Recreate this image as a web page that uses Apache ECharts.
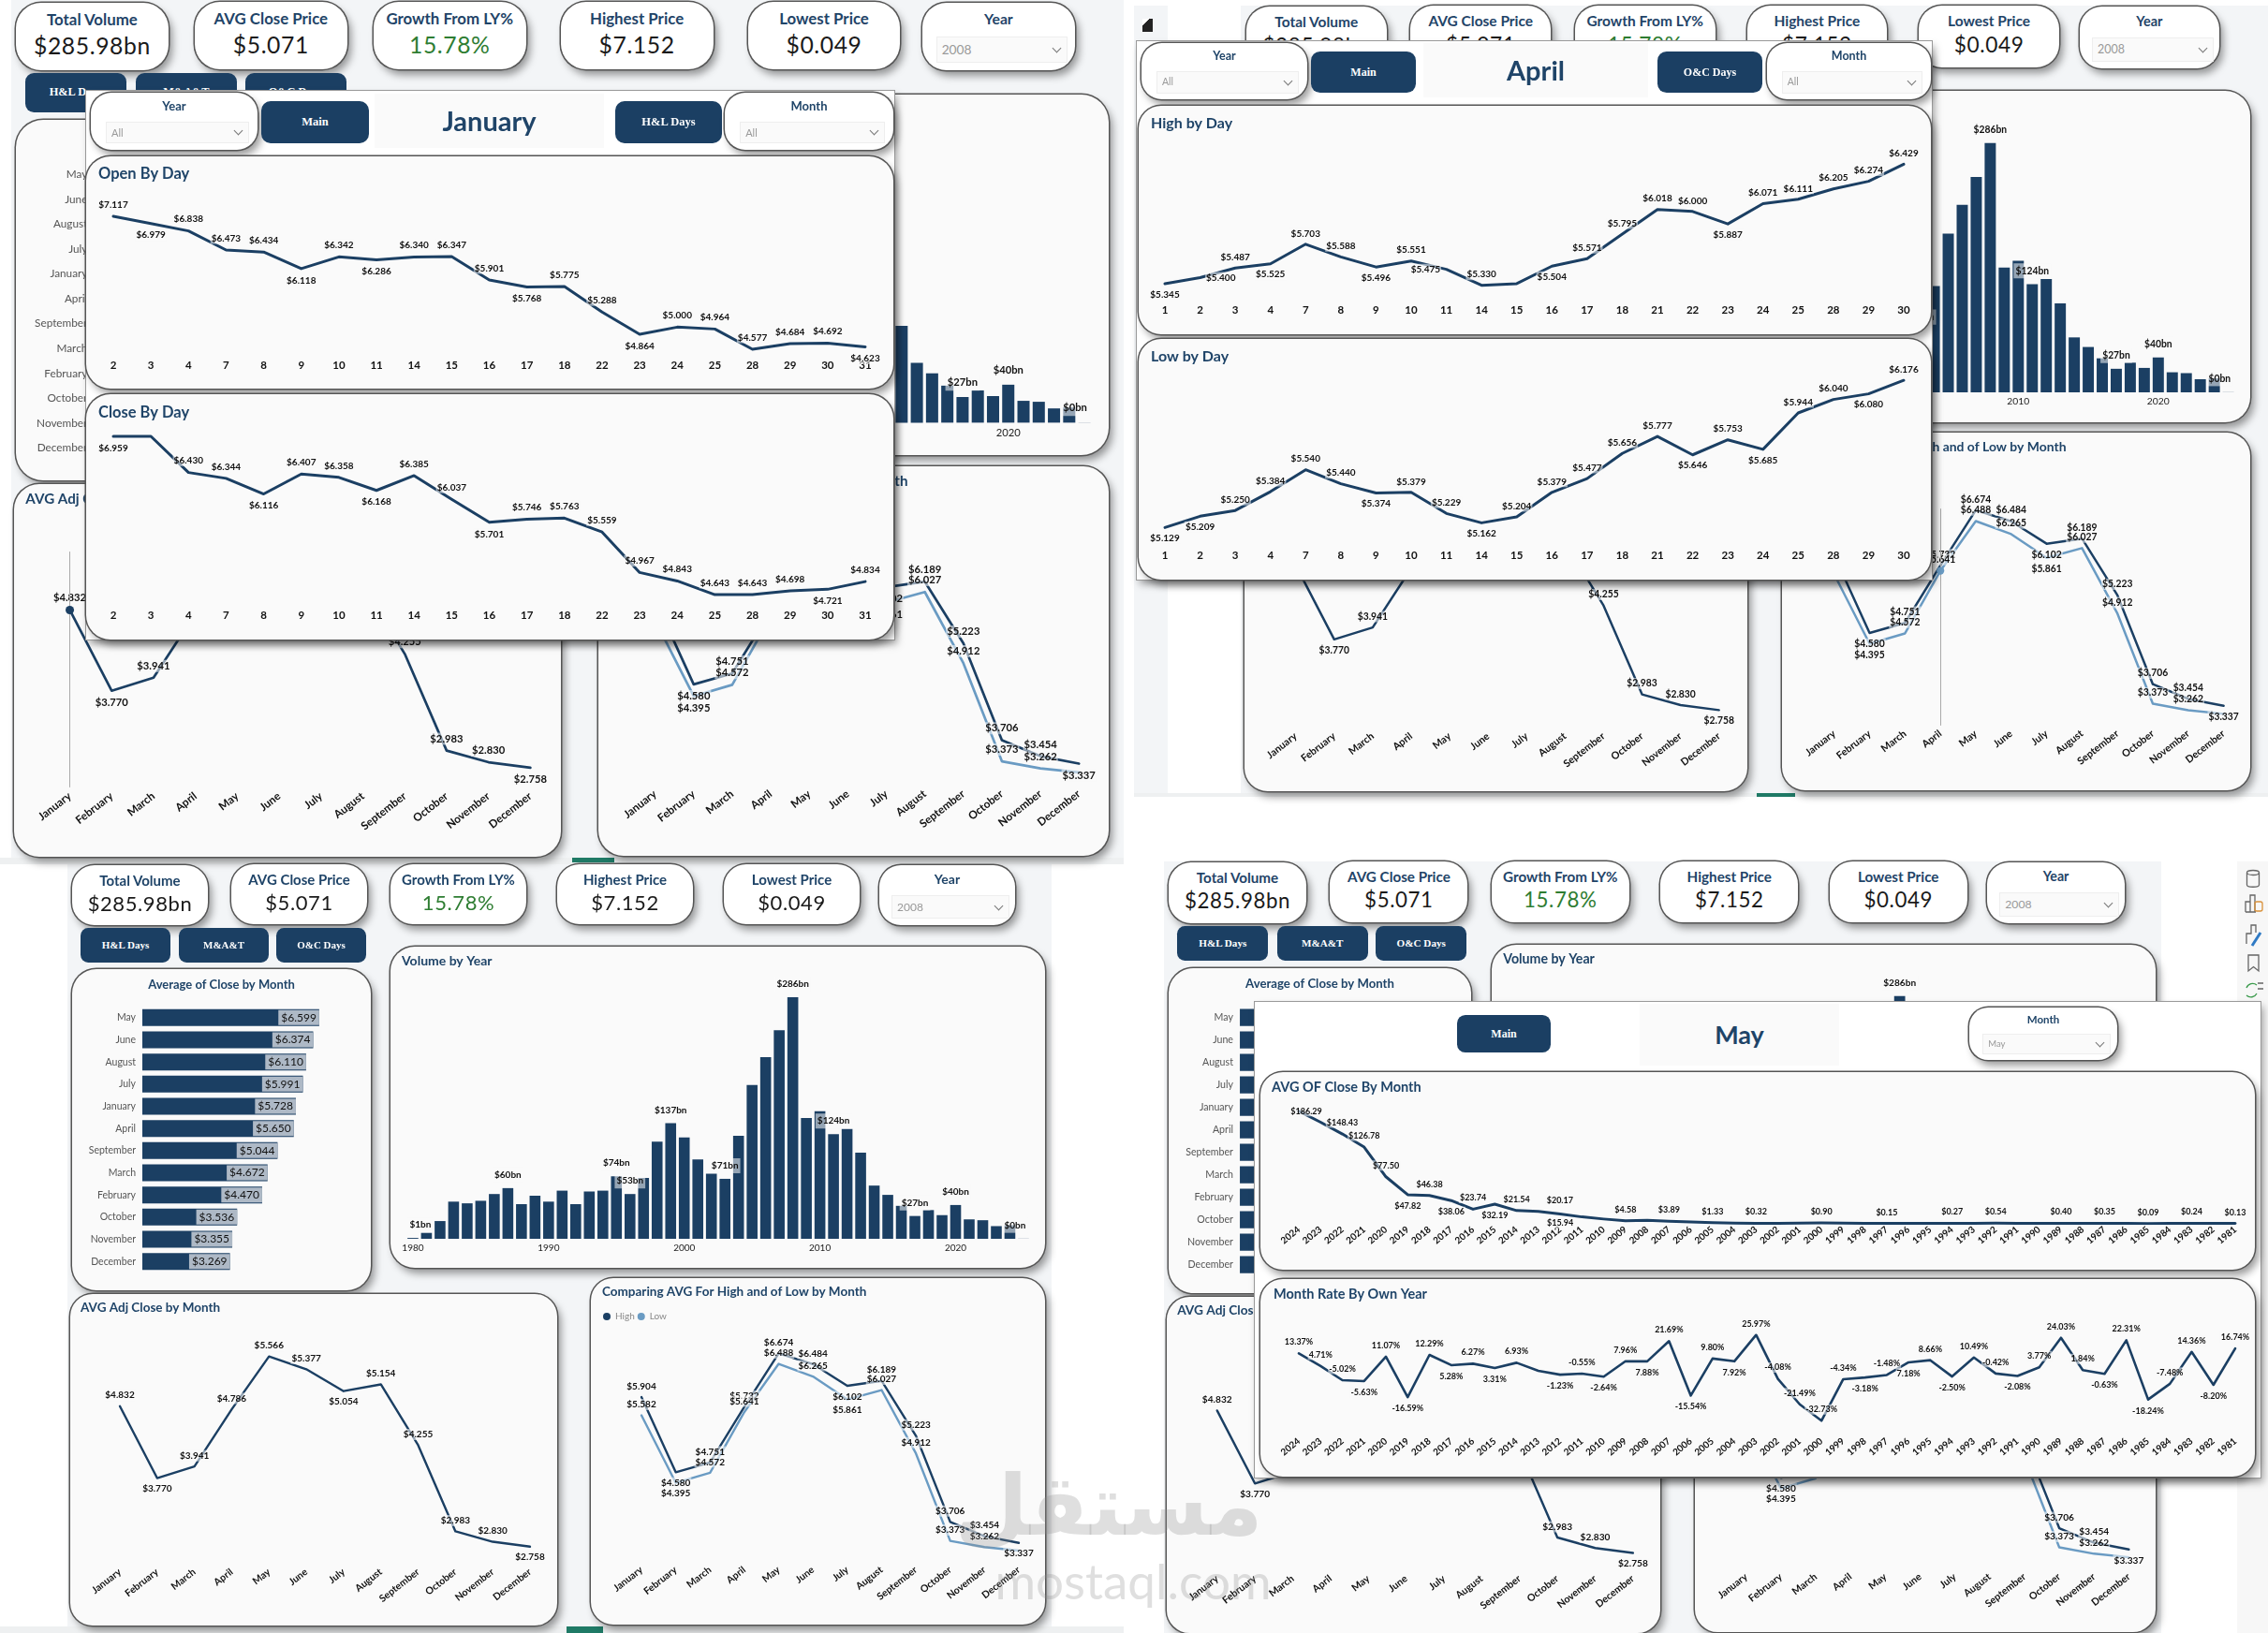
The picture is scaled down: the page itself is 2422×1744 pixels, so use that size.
<!DOCTYPE html>
<html>
<head>
<meta charset="utf-8">
<title>Stock dashboard</title>
<script src="https://cdn.jsdelivr.net/npm/echarts@6/dist/echarts.min.js"></script>
<style>
  html, body { margin:0; padding:0; background:#fff; }
  body { width:2422px; height:1744px; position:relative; overflow:hidden; font-family:Lato,Roboto,sans-serif; }
  .abs { position:absolute; box-sizing:border-box; }
  .card { background:#fafafa; box-shadow:0 0 0 1.5px #555, 4px 6px 8px rgba(0,0,0,.4); }
  .tile { background:#fff; box-shadow:0 0 0 1.5px #555, 4px 6px 8px rgba(0,0,0,.4); text-align:center; }
  .btn { background:#1b3f63; color:#fff; text-align:center; font-family:"Liberation Serif",serif; font-weight:bold; }
  .tileLabel { color:#1f4468; font-weight:bold; position:absolute; left:0; right:0; }
  .tileValue { color:#1a1a1a; position:absolute; left:0; right:0; letter-spacing:.6px; }
  .pick { position:absolute; background:#fafafa; border:1px solid #eee; color:#999; text-align:left; }
  .pick i { position:absolute; border-right:1px solid #777; border-bottom:1px solid #777; transform:rotate(45deg); }
</style>
</head>
<body>
<script>
// shared axes
var months = ['January','February','March','April','May','June','July','August','September','October','November','December'];
var barMonths = ['May','June','August','July','January','April','September','March','February','October','November','December'];
var barClose = [6.599,6.374,6.110,5.991,5.728,5.650,5.044,4.672,4.470,3.536,3.355,3.269];

var volumeYears = [1980,1981,1982,1983,1984,1985,1986,1987,1988,1989,1990,1991,1992,1993,1994,1995,1996,1997,1998,1999,2000,2001,2002,2003,2004,2005,2006,2007,2008,2009,2010,2011,2012,2013,2014,2015,2016,2017,2018,2019,2020,2021,2022,2023,2024,2025];
var volumeBn = [1,7,21,44,42,45,53,60,41,51,44,57,41,56,57,74,53,72,115,137,120,94,77,71,122,182,215,247,286,143,151,124,130,102,63,52,39,27,34,28,40,23,22,15,16,0.4];
var volumeLabelled = [1980,1987,1995,1996,1999,2003,2008,2011,2017,2020,2025];

// a = label above, b = below, l / r = beside the point, - = no label
var adjClose = [4.832,3.770,3.941,4.786,5.566,5.377,5.054,5.154,4.255,2.983,2.830,2.758];
var adjPlace = 'abaaaabaaaab';
var avgHigh = [5.904,4.580,4.751,5.732,6.674,6.484,6.102,6.189,5.223,3.706,3.454,3.337];
var avgLow = [5.582,4.395,4.572,5.641,6.488,6.265,5.861,6.027,4.912,3.373,3.262,3.200];
var highPlace = 'abaaaabaaaab';
var lowPlace = 'abaaaabaaaa-';

var janDays = ['2','3','4','7','8','9','10','11','14','15','16','17','18','22','23','24','25','28','29','30','31'];
var janOpen = [7.117,6.979,6.838,6.473,6.434,6.118,6.342,6.286,6.340,6.347,5.901,5.768,5.775,5.288,4.864,5.000,4.964,4.577,4.684,4.692,4.623];
var janOpenPlace = 'abaaababaaabaabaaaaab';
var janClose = [6.959,6.959,6.430,6.344,6.116,6.407,6.358,6.168,6.385,6.037,5.701,5.746,5.763,5.559,4.967,4.843,4.643,4.643,4.698,4.721,4.834];
var janClosePlace = 'b-aabaabaabaaaaaaaaba';

var aprDays = ['1','2','3','4','7','8','9','10','11','14','15','16','17','18','21','22','23','24','25','28','29','30'];
var aprHigh = [5.345,5.400,5.487,5.525,5.703,5.588,5.496,5.551,5.475,5.330,5.345,5.504,5.571,5.795,6.018,6.000,5.887,6.071,6.111,6.205,6.274,6.429];
var aprHighPlace = 'brabaabala-baaaabaaaaa';
var aprLow = [5.129,5.209,5.250,5.384,5.540,5.440,5.374,5.379,5.229,5.162,5.204,5.379,5.477,5.656,5.777,5.646,5.753,5.685,5.944,6.040,6.080,6.176];
var aprLowPlace = 'bbaaaabaabaaaaababaaba';

var ownYears = [2024,2023,2022,2021,2020,2019,2018,2017,2016,2015,2014,2013,2012,2011,2010,2009,2008,2007,2006,2005,2004,2003,2002,2001,2000,1999,1998,1997,1996,1995,1994,1993,1992,1991,1990,1989,1988,1987,1986,1985,1984,1983,1982,1981];
var mayClose = [186.29,168,148.43,126.78,77.50,47.82,46.38,38.06,23.74,32.19,21.54,20.17,15.94,11,7.5,4.58,5.5,3.89,2.5,1.33,0.8,0.32,0.5,0.7,0.90,0.6,0.3,0.15,0.2,0.25,0.27,0.4,0.54,0.5,0.45,0.40,0.38,0.35,0.2,0.09,0.15,0.24,0.2,0.13];
var mayClosePlace = 'a-aaababab'+'aab'+'--a-a-a-a--a--a--a-a--a-a-a-a-a';
var mayRate = [13.37,4.71,-5.02,-5.63,11.07,-16.59,12.29,5.28,6.27,3.31,6.93,1.40,-1.23,-0.55,-2.64,7.96,7.88,21.69,-15.54,9.80,7.92,25.97,-4.08,-21.49,-32.73,-4.34,-3.18,-1.48,7.18,8.66,-2.50,10.49,-0.42,-2.08,3.77,24.03,1.84,-0.63,22.31,-18.24,-7.48,14.36,-8.20,16.74];
var mayRatePlace = 'aaababab'+'aba-'+'babababab'+'aaaaa'+'bababa'+'ab'+'aaab'+'ab'+'aab'+'a';

var kpiNames = ['Total Volume','AVG Close Price','Growth From LY%','Highest Price','Lowest Price'];
var kpiValues = ['$285.98bn','$5.071','15.78%','$7.152','$0.049'];

var NAVY = '#1b3f63', SKY = '#6a9bc3', TITLE = '#1f4468', FONT = 'Lato,Roboto,sans-serif';
var HALO = 'rgba(250,250,250,0.55)';

function box(cls, x, y, w, h, r, parent) {
  var d = document.createElement('div');
  d.className = 'abs ' + cls;
  d.style.cssText = 'left:'+x+'px;top:'+y+'px;width:'+w+'px;height:'+h+'px;border-radius:'+(r||0)+'px;';
  (parent || document.body).appendChild(d);
  return d;
}

function tile(x, y, w, h, name, value, k, green) {
  var d = box('tile', x, y, w, h, 24*k);
  d.innerHTML = '<div class="tileLabel" style="top:'+(7*k)+'px;font-size:'+(15*k)+'px;line-height:'+(18*k)+'px">'+name+'</div>'+
    '<div class="tileValue" style="top:'+(27*k)+'px;font-size:'+(22*k)+'px;line-height:'+(28*k)+'px;color:'+(green?'#2e7d32':'#1a1a1a')+'">'+value+'</div>';
}

function slicer(x, y, w, h, name, value, fs) {
  var d = box('tile', x, y, w, h, h*0.36);
  var px = w*0.09, pw = w-2*px, pt = h*0.5, ph = h*0.36;
  d.innerHTML = '<div class="tileLabel" style="top:'+(h*0.1)+'px;font-size:'+fs+'px;line-height:'+(fs*1.3)+'px">'+name+'</div>'+
    '<div class="pick" style="left:'+px+'px;width:'+pw+'px;top:'+pt+'px;height:'+ph+'px;font-size:'+(fs-2)+'px;line-height:'+ph+'px;padding-left:5px">'+value+
    '<i style="right:7px;top:'+(ph/2-5)+'px;width:6px;height:6px"></i></div>';
}

function button(x, y, w, h, text, fs) {
  var d = box('btn', x, y, w, h, h*0.22);
  d.style.fontSize = fs+'px';
  d.style.lineHeight = h+'px';
  d.textContent = text;
}

function heading(x, y, w, h, text, fs) {
  var d = box('', x, y, w, h);
  d.style.cssText += 'background:#fafafa;color:'+TITLE+';font-weight:bold;text-align:center;font-size:'+fs+'px;line-height:'+h+'px;';
  d.textContent = text;
}

function chart(x, y, w, h, r, option) {
  var d = box('card', x, y, w, h, r);
  var c = echarts.init(d);
  option.animation = false;
  option.textStyle = { fontFamily: FONT };
  c.setOption(option);
  return c;
}

var POS = { a:'top', b:'bottom', l:'left', r:'right' };

// card + line chart, plot = [xFirst, xLast, yTop, yBottom] in page pixels
function lineCard(o) {
  var b = o.box, p = o.plot;
  var series = o.lines.map(function (l) {
    var s = {
      type:'line', name:l.name, symbol:'circle', symbolSize:1, showAllSymbol:true, z:3,
      lineStyle:{ color:l.color, width:o.width || 2.5, cap:'round', join:'round' },
      itemStyle:{ color:l.color },
      label:{ show:true, color:'#111', fontSize:o.fs, fontWeight:'bold', distance:o.dist,
              backgroundColor:HALO, padding:[1,1],
              formatter:function (q) { return l.fmt(l.vals[q.dataIndex]); } },
      data:l.vals.map(function (v, i) {
        var c = l.place[i];
        if (c === '-') return { value:v, label:{ show:false } };
        var lab = { position:POS[c] };
        if (l.shift && l.shift[i]) lab.offset = l.shift[i];
        return { value:v, label:lab };
      })
    };
    if (o.focus !== undefined && l.focusLine) {
      s.markLine = { silent:true, symbol:'none', label:{show:false}, lineStyle:{color:'#aaa',width:1,type:'solid'},
        data:[{ xAxis:o.cats[o.focus] }] };
      s.markPoint = { symbol:'circle', symbolSize:8*o.k, itemStyle:{color:l.color}, label:{show:false},
        data:[{ coord:[o.cats[o.focus], l.vals[o.focus]] }] };
    }
    return s;
  });
  var opt = {
    title:{ text:o.title, padding:0, left:o.titleX-b[0], top:o.titleY-b[1]-o.titleFs*0.6,
            textStyle:{ color:TITLE, fontSize:o.titleFs, fontWeight:'bold' } },
    grid:{ left:p[0]-b[0], top:p[2]-b[1], width:p[1]-p[0], height:p[3]-p[2] },
    xAxis:{ type:'category', data:o.cats, boundaryGap:false,
            axisLine:{show:false}, axisTick:{show:false},
            axisLabel:{ interval:0, color:'#111', fontSize:o.tickFs, rotate:o.rotate||0, margin:o.margin, fontWeight:'bold' } },
    yAxis:{ type:'value', show:false, min:o.yMin, max:o.yMax },
    series:series
  };
  if (o.legend) {
    opt.legend = { padding:0, left:o.legend[0]-b[0], top:o.legend[1]-b[1], icon:'circle', itemWidth:8*o.k, itemHeight:8*o.k, itemGap:3,
                   data:['High','Low'], textStyle:{ color:'#888', fontSize:10*o.k } };
  }
  chart(b[0], b[1], b[2]-b[0], b[3]-b[1], o.radius, opt);
}

function money3(v) { return '$'+v.toFixed(3); }
function money2(v) { return '$'+v.toFixed(2); }
function pct(v) { return v.toFixed(2)+'%'; }

// the main report page, all coordinates are those of the lower left screenshot
function dashboard(p) {
  var k = p.k;
  function X(x) { return p.ox+(x-77)*k; }
  function Y(y) { return p.oy+(y-924)*k; }

  var kx = [77,247,417,595,773], kw = 145;
  kpiNames.forEach(function (n, i) {
    tile(X(kx[i]), Y(i ? 923 : 924), kw*k, 64*k, n, kpiValues[i], k, i === 2);
  });
  slicer(X(939), Y(924), 145*k, 64*k, 'Year', '2008', 14*k);

  button(X(86), Y(991), 96*k, 37*k, 'H&L Days', 11*k);
  button(X(191), Y(991), 96*k, 37*k, 'M&A&T', 11*k);
  button(X(295), Y(991), 96*k, 37*k, 'O&C Days', 11*k);

  // average close, bars
  chart(X(77), Y(1035), 319*k, 343*k, 26*k, {
    title:{ text:'Average of Close by Month', padding:0, left:'center', top:10*k, textStyle:{ color:TITLE, fontSize:13*k, fontWeight:'bold' } },
    grid:{ left:(152-77)*k, top:(1075-1035)*k, width:229*k, height:284*k },
    xAxis:{ type:'value', show:false, min:0, max:8 },
    yAxis:{ type:'category', inverse:true, data:barMonths, axisLine:{show:false}, axisTick:{show:false},
            axisLabel:{ color:'#555', fontSize:10.5*k, margin:7*k } },
    series:[{ type:'bar', data:barClose, barWidth:18*k, itemStyle:{ color:NAVY },
              label:{ show:true, position:'insideRight', distance:0, color:'#111', fontSize:12*k,
                      backgroundColor:'#aeb9c6', padding:[2*k,3*k],
                      formatter:function (q) { return money3(q.value); } } }]
  });

  // volume, bars
  chart(X(417), Y(1011), 699*k, 343*k, 26*k, {
    title:{ text:'Volume by Year', padding:0, left:12*k, top:8*k, textStyle:{ color:TITLE, fontSize:14*k, fontWeight:'bold' } },
    grid:{ left:(433.7-417)*k, top:(1065-1011)*k, width:666.5*k, height:258*k },
    xAxis:{ type:'category', data:volumeYears, axisLine:{show:false}, axisTick:{show:false},
            axisLabel:{ interval:function (i, v) { return +v % 10 === 0; }, color:'#222', fontSize:10*k, margin:5*k } },
    yAxis:{ type:'value', show:false, min:0, max:286 },
    series:[{ type:'bar', barCategoryGap:'20%', z:3, itemStyle:{ color:NAVY },
              data:volumeBn.map(function (v, i) {
                var y = volumeYears[i], on = volumeLabelled.indexOf(y) >= 0;
                var off = y === 1980 ? [8*k,0] : y === 2025 ? [-9*k,0] : [0,0];
                return { value:v, itemStyle: y === 2025 ? { color:'#a9b4c2' } : undefined,
                  label:{ show:on, position:'top', distance:6*k, offset:off, color:'#111', fontSize:10*k, fontWeight:'bold',
                          backgroundColor:HALO, padding:[3*k,2*k],
                          formatter:function () { return '$'+Math.round(v)+'bn'; } } };
              }) }]
  });

  // adj close
  lineCard({
    box:[X(75),Y(1382),X(595),Y(1736)], radius:24*k, k:k,
    plot:[X(128),X(566),Y(1446.2),Y(1670.4)], yMin:2.5, yMax:5.6,
    title:'AVG Adj Close by Month', titleX:X(86), titleY:Y(1398), titleFs:13.5*k,
    cats:months, lines:[{ name:'Adj', color:NAVY, vals:adjClose, place:adjPlace, fmt:money3, focusLine:true }],
    fs:10*k, dist:5*k, tickFs:10.5*k, rotate:38, margin:7*k, width:2.4*k, focus:p.adjFocus
  });

  // high against low
  lineCard({
    box:[X(631),Y(1365),X(1116),Y(1735)], radius:24*k, k:k,
    plot:[X(685),X(1088),Y(1443.7),Y(1668.2)], yMin:3, yMax:6.7,
    title:'Comparing AVG For High and of Low by Month', titleX:X(643), titleY:Y(1381), titleFs:13.5*k,
    cats:months, lines:[
      { name:'High', color:NAVY, vals:avgHigh, place:highPlace, fmt:money3 },
      { name:'Low', color:SKY, vals:avgLow, place:lowPlace, fmt:money3, focusLine:true }
    ],
    fs:10*k, dist:5*k, tickFs:10.5*k, rotate:38, margin:7*k, width:2.4*k, legend:[X(644),Y(1401)], focus:p.cmpFocus
  });
}

// page backgrounds of the four screenshots
box('', 12, 0, 1188, 916).style.background = '#f3f5f7';
box('', 1211, 6, 36, 841).style.background = '#f3f5f7';
box('', 1325, 6, 1097, 841).style.background = '#f3f5f7';
box('', 72, 922, 1051, 815).style.background = '#f3f5f7';
box('', 1243, 920, 1065, 824).style.background = '#f3f5f7';
box('', 0, 916, 1200, 7).style.background = '#eef0f1';
box('', 611, 916, 45, 5).style.background = '#1f7a66';
box('', 1211, 847, 1211, 4).style.background = '#eef0f1';
box('', 1876, 847, 41, 4).style.background = '#1f7a66';
box('', 0, 1737, 1200, 7).style.background = '#eef0f1';
box('', 605, 1737, 39, 7).style.background = '#1f7a66';
box('', 2389, 920, 33, 824).style.background = '#f7f7f7';
box('', 1220, 20, 11, 14).style.cssText += 'background:linear-gradient(135deg,#fff 30%,#222 30%);';

// app toolbar beside the lower right screenshot
var bar = box('', 2395, 925, 24, 145);
bar.innerHTML = '<svg width="24" height="145" fill="none" stroke="#666" stroke-width="1.3">' +
  '<ellipse cx="11" cy="7" rx="6.5" ry="2.5"/><path d="M4.5 7v13c0 3 13 3 13 0V7"/>' +
  '<path d="M3 49V38h5v11M8 49V31h5v18M3 49h11"/><rect x="13" y="38" width="8" height="10" rx="2" stroke="#d9913a"/>' +
  '<path d="M4 83V72h5V63h5v8"/><path d="M10 85l9-14" stroke="#2f7ac4" stroke-width="3"/>' +
  '<path d="M6 95h11v17l-5.500-4.500L6 112z"/>' +
  '<path d="M4 130a7 7 0 0 1 11-3M15 136a7 7 0 0 1-11 2" stroke="#3a9a4b"/><path d="M16 125h6M16 131h6"/></svg>';

// ---- top left
dashboard({ ox:17, oy:3, k:1.123, adjFocus:0 });
box('', 92, 97, 863, 586).style.cssText += 'background:#fff;box-shadow:0 0 0 1px #999,3px 5px 8px rgba(0,0,0,.35);';
slicer(97, 99, 178, 61, 'Year', 'All', 13);
button(279, 108, 115, 45, 'Main', 12.5);
heading(400, 100, 245, 58, 'January', 29);
button(657, 108, 114, 45, 'H&L Days', 12.5);
slicer(774, 99, 180, 61, 'Month', 'All', 13);
lineCard({
  box:[92,167,954,415], radius:26, k:1, plot:[121,924,226.4,382.9], yMin:4.4, yMax:7.2,
  title:'Open By Day', titleX:105, titleY:187, titleFs:16.5,
  cats:janDays, lines:[{ name:'Open', color:NAVY, vals:janOpen, place:janOpenPlace, fmt:money3 }],
  fs:10, dist:6, tickFs:11.5, margin:1, width:3
});
lineCard({
  box:[92,421,954,683], radius:26, k:1, plot:[121,924,463,645.5], yMin:4.5, yMax:7,
  title:'Close By Day', titleX:105, titleY:442, titleFs:16.5,
  cats:janDays, lines:[{ name:'Close', color:NAVY, vals:janClose, place:janClosePlace, fmt:money3 }],
  fs:10, dist:6, tickFs:11.5, margin:6, width:3
});

// ---- top right
dashboard({ ox:1331, oy:7, k:1.032, cmpFocus:3 });
box('', 1214, 44, 849, 575).style.cssText += 'background:#fff;box-shadow:0 0 0 1px #999,3px 5px 8px rgba(0,0,0,.35);';
slicer(1219, 46, 177, 60, 'Year', 'All', 12.5);
button(1400, 55, 112, 44, 'Main', 12);
heading(1520, 46, 240, 58, 'April', 29);
button(1770, 55, 112, 44, 'O&C Days', 12);
slicer(1887, 46, 175, 60, 'Month', 'All', 12.5);
lineCard({
  box:[1216,113,2062,357], radius:24, k:1, plot:[1244,2033,167,320], yMin:5.2, yMax:6.5,
  title:'High by Day', titleX:1229, titleY:133, titleFs:16,
  cats:aprDays, lines:[{ name:'High', color:NAVY, vals:aprHigh, place:aprHighPlace, fmt:money3 }],
  fs:10, dist:5, tickFs:11.5, margin:5, width:3
});
lineCard({
  box:[1216,362,2062,619], radius:24, k:1, plot:[1244,2033,402.6,582.7], yMin:5, yMax:6.2,
  title:'Low by Day', titleX:1229, titleY:382, titleFs:16,
  cats:aprDays, lines:[{ name:'Low', color:NAVY, vals:aprLow, place:aprLowPlace, fmt:money3 }],
  fs:10, dist:5, tickFs:11.5, margin:5, width:3
});

// ---- bottom left
dashboard({ ox:77, oy:924, k:1 });

// ---- bottom right
dashboard({ ox:1248, oy:921, k:1.014 });
box('', 1340, 1070, 1074, 508).style.cssText += 'background:#fff;box-shadow:0 0 0 1px #999,3px 5px 8px rgba(0,0,0,.35);';
button(1556, 1084, 100, 40, 'Main', 12);
heading(1751, 1072, 213, 66, 'May', 27);
slicer(2103, 1076, 158, 56, 'Month', 'May', 11.5);
lineCard({
  box:[1346,1145,2408,1356], radius:24, k:1, plot:[1387,2387,1186.7,1306.7], yMin:0, yMax:186.29,
  title:'AVG OF Close By Month', titleX:1358, titleY:1163, titleFs:14.5,
  cats:ownYears, lines:[{ name:'Close', color:NAVY, vals:mayClose, place:mayClosePlace, fmt:money2, shift:{ 0:[8,12], 11:[23,0], 12:[0,-2] } }],
  fs:9, dist:6, tickFs:10, rotate:40, margin:5, width:3
});
lineCard({
  box:[1346,1366,2408,1577], radius:24, k:1, plot:[1387,2387,1425.6,1517.7], yMin:-33, yMax:26,
  title:'Month Rate By Own Year', titleX:1360, titleY:1384, titleFs:14.5,
  cats:ownYears, lines:[{ name:'Rate', color:NAVY, vals:mayRate, place:mayRatePlace, fmt:pct }],
  fs:9, dist:6, tickFs:10, rotate:40, margin:20, width:2.6
});

// watermark on top of everything
var wm = box('', 1000, 1552, 420, 165);
wm.style.cssText += 'color:rgba(140,140,140,.28);text-align:center;font-family:"DejaVu Sans",sans-serif;font-weight:bold;';
wm.innerHTML = '<div style="font-size:90px;line-height:112px;margin-left:-52px">مستقل</div><div style="font-family:Lato,sans-serif;font-size:53px;line-height:48px;font-weight:normal">mostaql.com</div>';
</script>
</body>
</html>
